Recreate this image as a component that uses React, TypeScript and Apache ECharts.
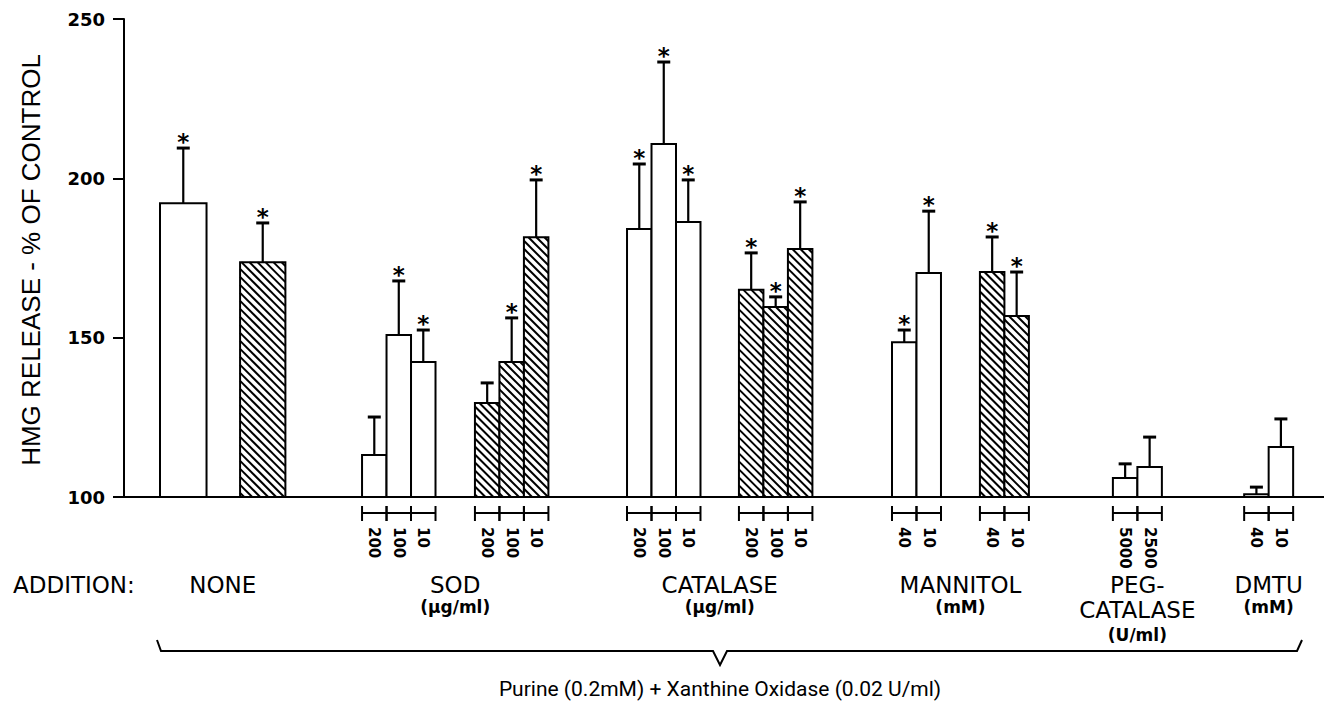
import React, { useEffect, useRef } from "react";
import * as echarts from "echarts";

// ---------- DATA ----------
const additions = ["NONE", "SOD", "CATALASE", "MANNITOL", "PEG-\nCATALASE", "DMTU"];
const additionUnits = ["", "(μg/ml)", "(μg/ml)", "(mM)", "(U/ml)", "(mM)"];
// which sub-group (cluster of adjacent bars) each bar belongs to
const barSubgroup = [0, 1, 2, 2, 2, 3, 3, 3, 4, 4, 4, 5, 5, 5, 6, 6, 7, 7, 8, 8, 9, 9];
// which addition each sub-group belongs to
const subgroupAddition = [0, 0, 1, 1, 2, 2, 3, 3, 4, 5];
const doses = ["", "", "200", "100", "10", "200", "100", "10", "200", "100", "10", "200", "100", "10", "40", "10", "40", "10", "5000", "2500", "40", "10"];
const hatched = [false, true, false, false, false, true, true, true, false, false, false, true, true, true, false, false, true, true, false, false, false, false];
const means = [192.2, 173.7, 113.2, 150.8, 142.4, 129.5, 142.4, 181.5, 184.1, 210.8, 186.3, 165.0, 159.6, 177.8, 148.6, 170.3, 170.6, 156.8, 106.0, 109.4, 100.9, 115.7];
const errTops = [209.5, 186.0, 125.1, 167.8, 152.4, 135.8, 156.2, 199.5, 204.5, 236.5, 199.5, 176.6, 162.8, 192.6, 152.4, 189.7, 181.6, 170.6, 110.4, 118.8, 103.1, 124.5];
const significant = [true, true, false, true, true, false, true, true, true, true, true, true, true, true, true, true, true, true, false, false, false, false];
const yTicks = [100, 150, 200, 250];
const additionLabel = "ADDITION:";
const footnote = "Purine (0.2mM) + Xanthine Oxidase (0.02 U/ml)";
const yTitle = "HMG RELEASE - % OF CONTROL";

// ---------- LAYOUT (axis units: one unit = one narrow bar) ----------
const X_MAX = 49;
const SUBGROUP_START = [1.47, 4.74, 9.72, 14.33, 20.54, 25.11, 31.36, 34.95, 40.38, 45.74];
const SUBGROUP_BAR_W = [1.9, 1.85, 1, 1, 1, 1, 1, 1, 1, 1];

const FONT = "'DejaVu Sans', sans-serif";

function barExtents() {
  const counter: number[] = SUBGROUP_START.map(() => 0);
  return barSubgroup.map((g) => {
    const j = counter[g]++;
    const x0 = SUBGROUP_START[g] + j * SUBGROUP_BAR_W[g];
    return [x0, x0 + SUBGROUP_BAR_W[g]];
  });
}

function additionExtents(bars: number[][]) {
  return additions.map((_, a) => {
    let lo = Infinity;
    let hi = -Infinity;
    barSubgroup.forEach((g, i) => {
      if (subgroupAddition[g] === a) {
        lo = Math.min(lo, bars[i][0]);
        hi = Math.max(hi, bars[i][1]);
      }
    });
    return [lo, hi];
  });
}

export default function App() {
  const ref = useRef<HTMLDivElement>(null);

  useEffect(() => {
    if (!ref.current) return;
    const chart = echarts.init(ref.current, undefined, { renderer: "svg" });
    const bars = barExtents();
    const barData = bars.map((b, i) => [b[0], b[1], means[i], errTops[i], i]);
    const addData = additionExtents(bars).map((e, a) => [e[0], e[1], a]);
    const yMin = yTicks[0];

    const renderBar = (params: any, api: any) => {
      const i = api.value(4);
      const x0 = api.value(0);
      const x1 = api.value(1);
      const m = api.value(2);
      const e = api.value(3);
      const pBL = api.coord([x0, yMin]);
      const pTR = api.coord([x1, m]);
      const L = pBL[0];
      const B = pBL[1];
      const R = pTR[0];
      const T = pTR[1];
      const cx = (L + R) / 2;
      const ey = api.coord([x0, e])[1];
      const children: any[] = [];
      children.push({
        type: "rect",
        shape: { x: L, y: T, width: R - L, height: B - T },
        style: { fill: "#fff", stroke: null },
      });
      if (hatched[i]) {
        const s = 8;
        const h = B - T;
        for (let k = -(R - L) + s / 2; k < h; k += s) {
          const xa = Math.max(L, L - k);
          const xb = Math.min(R, L + h - k);
          if (xb - xa > 0.5) {
            children.push({
              type: "line",
              shape: { x1: xa, y1: T + (xa - L) + k, x2: xb, y2: T + (xb - L) + k },
              style: { stroke: "#000", lineWidth: 2 },
            });
          }
        }
      }
      children.push({
        type: "rect",
        shape: { x: L, y: T, width: R - L, height: B - T },
        style: { fill: null, stroke: "#000", lineWidth: 2 },
      });
      children.push({
        type: "line",
        shape: { x1: cx, y1: T, x2: cx, y2: ey },
        style: { stroke: "#000", lineWidth: 2.2 },
      });
      children.push({
        type: "line",
        shape: { x1: cx - 6.5, y1: ey, x2: cx + 6.5, y2: ey },
        style: { stroke: "#000", lineWidth: 3 },
      });
      if (significant[i]) {
        children.push({
          type: "text",
          x: cx,
          y: ey - 6,
          style: {
            text: "*",
            align: "center",
            verticalAlign: "middle",
            font: `bold 23px ${FONT}`,
            fill: "#000",
          },
        });
      }
      if (doses[i]) {
        const ry = B + 16;
        children.push({
          type: "line",
          shape: { x1: L, y1: ry, x2: R, y2: ry },
          style: { stroke: "#000", lineWidth: 2 },
        });
        children.push({
          type: "line",
          shape: { x1: L, y1: B + 9, x2: L, y2: B + 24 },
          style: { stroke: "#000", lineWidth: 2 },
        });
        children.push({
          type: "line",
          shape: { x1: R, y1: B + 9, x2: R, y2: B + 24 },
          style: { stroke: "#000", lineWidth: 2 },
        });
        children.push({
          type: "text",
          x: cx,
          y: B + 30,
          rotation: -Math.PI / 2,
          style: {
            text: doses[i],
            align: "left",
            verticalAlign: "middle",
            font: `bold 15px ${FONT}`,
            fill: "#000",
          },
        });
      }
      return { type: "group", children };
    };

    const renderAddition = (params: any, api: any) => {
      const a = api.value(2);
      const p0 = api.coord([api.value(0), yMin]);
      const p1 = api.coord([api.value(1), yMin]);
      const cx = (p0[0] + p1[0]) / 2;
      const B = p0[1];
      const lines = additions[a].split("\n");
      const children: any[] = lines.map((t, k) => ({
        type: "text",
        x: cx,
        y: B + 88 + k * 25,
        style: {
          text: t,
          align: "center",
          verticalAlign: "middle",
          font: `23px ${FONT}`,
          fill: "#000",
        },
      }));
      if (additionUnits[a]) {
        children.push({
          type: "text",
          x: cx,
          y: lines.length > 1 ? B + 138 : B + 110,
          style: {
            text: additionUnits[a],
            align: "center",
            verticalAlign: "middle",
            font: `bold 17px ${FONT}`,
            fill: "#000",
          },
        });
      }
      return { type: "group", children };
    };

    chart.setOption({
      animation: false,
      backgroundColor: "#fff",
      grid: { left: 124, right: 0, top: 19, bottom: 206, containLabel: false },
      xAxis: {
        type: "value",
        min: 0,
        max: X_MAX,
        axisLine: { show: true, onZero: false, lineStyle: { color: "#000", width: 2 } },
        axisTick: { show: false },
        axisLabel: { show: false },
        splitLine: { show: false },
      },
      yAxis: {
        type: "value",
        min: yTicks[0],
        max: yTicks[yTicks.length - 1],
        interval: yTicks[1] - yTicks[0],
        axisLine: { show: true, lineStyle: { color: "#000", width: 2 } },
        axisTick: { show: true, inside: false, length: 11, lineStyle: { color: "#000", width: 2 } },
        axisLabel: {
          color: "#000",
          fontFamily: "DejaVu Sans",
          fontWeight: "bold",
          fontSize: 18,
          margin: 19,
        },
        splitLine: { show: false },
      },
      series: [
        {
          type: "custom",
          name: "bars",
          silent: true,
          clip: false,
          renderItem: renderBar,
          encode: { x: [0, 1], y: [2, 3] },
          data: barData,
        },
        {
          type: "custom",
          name: "additions",
          silent: true,
          clip: false,
          renderItem: renderAddition,
          encode: { x: [0, 1] },
          data: addData,
        },
      ],
      graphic: [
        {
          type: "text",
          x: 31,
          y: 260,
          rotation: Math.PI / 2,
          style: {
            text: yTitle,
            align: "center",
            verticalAlign: "middle",
            font: "26px 'Liberation Sans', Arial, sans-serif",
            fill: "#000",
          },
        },
        {
          type: "text",
          x: 13,
          y: 585,
          style: {
            text: additionLabel,
            align: "left",
            verticalAlign: "middle",
            font: `23px ${FONT}`,
            fill: "#000",
          },
        },
        {
          type: "polyline",
          shape: {
            points: [
              [157, 640],
              [161, 651],
              [713, 651],
              [720, 665],
              [727, 651],
              [1297, 651],
              [1302, 640],
            ],
          },
          style: { stroke: "#000", lineWidth: 2, fill: null },
        },
        {
          type: "text",
          x: 720,
          y: 689,
          style: {
            text: footnote,
            align: "center",
            verticalAlign: "middle",
            font: "21px Roboto, sans-serif",
            fill: "#000",
          },
        },
      ],
    });
    return () => chart.dispose();
  }, []);

  return (
    <div
      ref={ref}
      style={{ position: "fixed", left: 0, top: 0, width: 1324, height: 703, background: "#fff" }}
    />
  );
}
